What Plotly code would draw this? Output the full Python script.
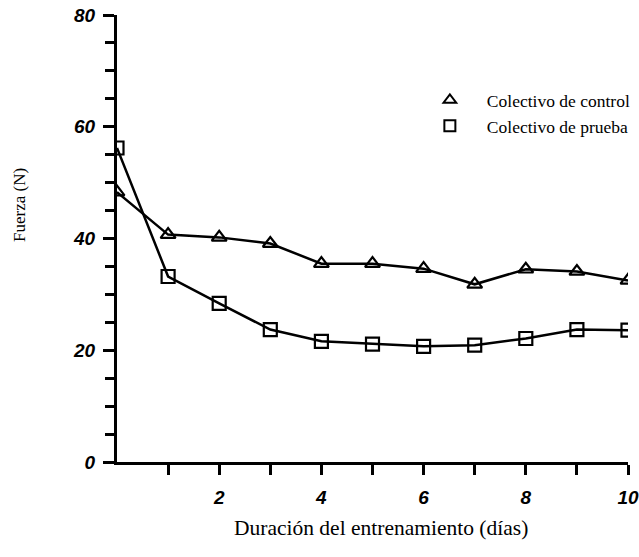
import plotly.graph_objects as go

dias = [0, 1, 2, 3, 4, 5, 6, 7, 8, 9, 10]
control = [48.3, 40.7, 40.2, 39.1, 35.5, 35.5, 34.6, 31.8, 34.5, 34.1, 32.5]
prueba = [56.2, 33.2, 28.4, 23.7, 21.6, 21.1, 20.7, 20.9, 22.1, 23.7, 23.6]
x_ticks = [2, 4, 6, 8, 10]
x_minor = [1, 3, 5, 7, 9]
y_ticks = [0, 20, 40, 60, 80]
y_minor = [5, 10, 15, 25, 30, 35, 45, 50, 55, 65, 70, 75]
nombres = ["Colectivo de control", "Colectivo de prueba"]

fig = go.Figure()
fig.add_trace(go.Scatter(x=dias, y=control, mode="lines+markers", showlegend=False,
                         line=dict(color="black", width=2.5),
                         marker=dict(symbol="triangle-up-open", size=13, color="black",
                                     line=dict(width=2.2, color="black"))))
fig.add_trace(go.Scatter(x=dias, y=prueba, mode="lines+markers", showlegend=False,
                         line=dict(color="black", width=2.5),
                         marker=dict(symbol="square-open", size=13, color="black",
                                     line=dict(width=2.2, color="black"))))
fig.add_trace(go.Scatter(x=[None], y=[None], mode="markers", name=nombres[0],
                         marker=dict(symbol="triangle-up-open", size=11, color="black",
                                     line=dict(width=2, color="black"))))
fig.add_trace(go.Scatter(x=[None], y=[None], mode="markers", name=nombres[1],
                         marker=dict(symbol="square-open", size=11, color="black",
                                     line=dict(width=2, color="black"))))

tickfont = dict(family="Liberation Sans", size=19, color="black", style="italic", weight="bold")

fig.update_layout(
    width=639, height=557,
    margin=dict(l=117, r=11, t=15, b=95, autoexpand=False),
    plot_bgcolor="white", paper_bgcolor="white",
    showlegend=True,
    legend=dict(x=0.579, y=0.85, xanchor="left", yanchor="top",
                font=dict(family="Liberation Serif", size=17.5, color="black"),
                bgcolor="rgba(0,0,0,0)", tracegroupgap=2, itemwidth=64),
    xaxis=dict(range=[0, 10], showgrid=False, zeroline=False, automargin=False,
               showline=True, linecolor="black", linewidth=3,
               tickmode="array", tickvals=x_ticks, ticktext=[str(v) for v in x_ticks],
               ticks="outside", ticklen=10, tickwidth=2.5, tickcolor="black",
               tickfont=tickfont, ticklabelstandoff=6,
               minor=dict(tickvals=x_minor, ticks="outside", ticklen=10, tickwidth=2.5,
                          tickcolor="black", showgrid=False)),
    yaxis=dict(range=[0, 80], showgrid=False, zeroline=False, automargin=False,
               showline=True, linecolor="black", linewidth=3,
               tickmode="array", tickvals=y_ticks, ticktext=[str(v) for v in y_ticks],
               ticks="outside", ticklen=11, tickwidth=2.5, tickcolor="black",
               tickfont=tickfont, ticklabelstandoff=4,
               minor=dict(tickvals=y_minor, ticks="outside", ticklen=9, tickwidth=2.5,
                          tickcolor="black", showgrid=False)),
)

fig.add_annotation(text="Fuerza (N)", xref="paper", yref="paper", x=-0.19, y=0.575,
                   xanchor="center", yanchor="middle", textangle=-90, showarrow=False,
                   font=dict(family="Liberation Serif", size=17, color="black"))
fig.add_annotation(text="Duración del entrenamiento (días)", xref="paper", yref="paper",
                   x=0.517, y=-0.148, xanchor="center", yanchor="middle", showarrow=False,
                   font=dict(family="Liberation Serif", size=21.5, color="black"))

fig.write_html("out.html", config={"displayModeBar": False},
               post_script="document.body.style.margin='0';document.body.style.overflow='hidden';")
